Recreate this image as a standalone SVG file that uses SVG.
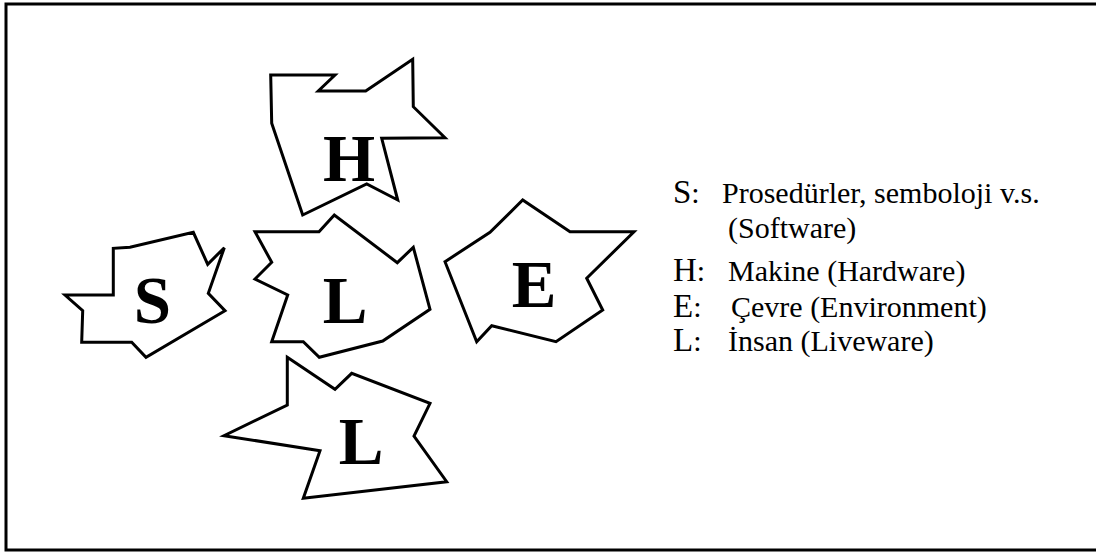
<svg xmlns="http://www.w3.org/2000/svg" width="1096" height="553" viewBox="0 0 1096 553">
<style>
.shape{fill:#fff;stroke:#000;stroke-width:3;stroke-linejoin:miter}
.big{font-family:"Liberation Serif","Times New Roman",serif;font-weight:bold;font-size:67px;text-anchor:middle;fill:#000}
.leg{font-family:"Liberation Serif","Times New Roman",serif;font-size:30px;fill:#000}
.legk{font-size:33px}
</style>
<rect x="0" y="0" width="1096" height="553" fill="#fff"/>
<rect x="6" y="4" width="1200" height="546" fill="none" stroke="#000" stroke-width="3"/>
<g id="node-H">
<polygon class="shape" points="270.7,75 335,75 318.3,91 365.7,91 412.7,59.3 413.3,106.7 445,137.7 381.7,138.3 397.7,200 366.7,184 302.7,215 271.7,123.3"/>
<text class="big" x="349" y="181">H</text>
</g>
<g id="node-S">
<polygon class="shape" points="65,295 113.3,295 113.3,248.3 130,247.3 193.3,232.3 207.7,264.3 224.3,247.7 208.3,293.3 225,310.7 146,357.3 131.7,342.3 81.7,342.3 82.7,310.7"/>
<text class="big" x="152.5" y="323">S</text>
</g>
<g id="node-L-center">
<polygon class="shape" points="255,231.7 319,231.7 334.3,215 397.3,262.7 413.3,247.3 430,309.3 382.7,341 319.3,357.3 303.3,341.7 271.7,341.7 287.7,295 255,279 271.7,262.3"/>
<text class="big" x="345" y="323">L</text>
</g>
<g id="node-E">
<polygon class="shape" points="445,261.7 490,232.3 522.7,200 570,231.7 634,231.7 586.7,278.3 602.7,310 556,341.7 491.7,325.7 476.7,341.7"/>
<text class="big" x="534" y="307">E</text>
</g>
<g id="node-L-bottom">
<polygon class="shape" points="287.3,357.3 335,389.3 351.7,373.3 430,403.3 414,436 446.7,481.7 303.3,498.3 320,450.7 224,435.7 287.3,405"/>
<text class="big" x="361" y="464">L</text>
</g>
<g id="legend">
<text class="leg" y="203"><tspan class="legk" x="673">S</tspan><tspan>:</tspan><tspan x="722">Prosedürler, semboloji v.s.</tspan></text>
<text class="leg" x="728" y="238">(Software)</text>
<text class="leg" y="281"><tspan class="legk" x="673">H</tspan><tspan>:</tspan><tspan x="728">Makine (Hardware)</tspan></text>
<text class="leg" y="317"><tspan class="legk" x="673">E</tspan><tspan>:</tspan><tspan x="731">Çevre (Environment)</tspan></text>
<text class="leg" y="351"><tspan class="legk" x="673">L</tspan><tspan>:</tspan><tspan x="728">İnsan (Liveware)</tspan></text>
</g>
<g id="connectors"></g>
</svg>
